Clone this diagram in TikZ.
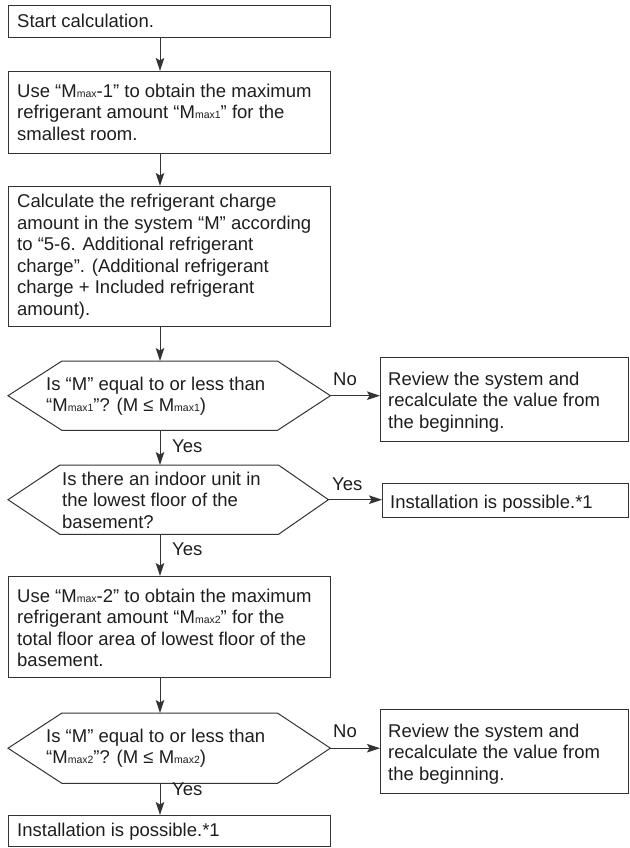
\documentclass[tikz,border=0pt]{standalone}
\usepackage{fontspec}
\setmainfont{Liberation Sans}
\usetikzlibrary{arrows.meta}
\newcommand\sbs[1]{{\fontsize{10.5}{10.5}\selectfont #1}}
\definecolor{ln}{HTML}{333333}
\definecolor{tx}{HTML}{1E1E1E}
\begin{document}
\begin{tikzpicture}[x=1pt,y=-1pt,
  boxs/.style={draw=ln,line width=1.1pt,inner sep=0pt,anchor=north west,fill=none},
  txt/.style={text=tx,inner sep=0pt,anchor=north west,align=left,font=\fontsize{18.5}{21.5}\selectfont},
  lbl/.style={text=tx,inner sep=0pt,anchor=base west,font=\fontsize{18.5}{21.5}\selectfont},
  hexs/.style={draw=none,inner sep=0pt,anchor=north west},
  arr/.style={draw=ln,line width=1pt,-{Stealth[length=13pt,width=8.5pt,inset=2.5pt]}},
  hexl/.style={draw=ln,line width=1pt,line join=miter}]
\useasboundingbox (0,0) rectangle (629,848);
\coordinate (col) at (160,0);
% boxes
\node[boxs,minimum width=322pt,minimum height=32pt] (b1) at (8,5) {};
\node[lbl] (t1) at (17,28) {Start calculation.};
\node[boxs,minimum width=322pt,minimum height=82pt] (b2) at (8,71) {};
\node[txt] (t2) at (17,83.6) {Use “M\sbs{max}-1” to obtain the maximum\\refrigerant amount “M\sbs{max1}” for the\\smallest room.};
\node[boxs,minimum width=322pt,minimum height=140pt] (b3) at (8,186) {};
\node[txt] (t3) at (17,194) {Calculate the refrigerant charge\\amount in the system “M” according\\to “5-6. Additional refrigerant\\charge”. (Additional refrigerant\\charge + Included refrigerant\\amount).};
% hex 1
\node[hexs,minimum width=322pt,minimum height=69pt] (h1) at (8,361) {};
\draw[hexl] (h1.west) -- ([xshift=54pt]h1.north west) -- ([xshift=-53pt]h1.north east) -- (h1.east) -- ([xshift=-53pt]h1.south east) -- ([xshift=54pt]h1.south west) -- cycle;
\node[txt] (t4) at (46,376.6) {Is “M” equal to or less than\\“M\sbs{max1}”? (M ≤ M\sbs{max1})};
\node[lbl] (no1) at (333,385) {No};
\node[boxs,minimum width=248pt,minimum height=84pt] (r1) at (380,357) {};
\node[txt] (t5) at (388,371.6) {Review the system and\\recalculate the value from\\the beginning.};
\node[lbl] (y1) at (172,452) {Yes};
% hex 2
\node[hexs,minimum width=320pt,minimum height=69pt] (h2) at (8,465) {};
\draw[hexl] (h2.west) -- ([xshift=52pt]h2.north west) -- ([xshift=-50pt]h2.north east) -- (h2.east) -- ([xshift=-50pt]h2.south east) -- ([xshift=52pt]h2.south west) -- cycle;
\node[txt] (t6) at (62,471.6) {Is there an indoor unit in\\the lowest floor of the\\basement?};
\node[lbl] (y2) at (332,490) {Yes};
\node[boxs,minimum width=246pt,minimum height=34pt] (i1) at (382,483) {};
\node[lbl] (t7) at (390,508) {Installation is possible.*1};
\node[lbl] (y3) at (172,555) {Yes};
% box 4
\node[boxs,minimum width=322pt,minimum height=101pt] (b4) at (8,576) {};
\node[txt] (t8) at (17,588.6) {Use “M\sbs{max}-2” to obtain the maximum\\refrigerant amount “M\sbs{max2}” for the\\total floor area of lowest floor of the\\basement.};
% hex 3
\node[hexs,minimum width=322pt,minimum height=70pt] (h3) at (8,713) {};
\draw[hexl] (h3.west) -- ([xshift=54pt]h3.north west) -- ([xshift=-53pt]h3.north east) -- (h3.east) -- ([xshift=-53pt]h3.south east) -- ([xshift=54pt]h3.south west) -- cycle;
\node[txt] (t9) at (46,728.6) {Is “M” equal to or less than\\“M\sbs{max2}”? (M ≤ M\sbs{max2})};
\node[lbl] (no2) at (333,737) {No};
\node[boxs,minimum width=248pt,minimum height=84pt] (r2) at (380,709) {};
\node[txt] (t10) at (388,723.6) {Review the system and\\recalculate the value from\\the beginning.};
\node[lbl] (y4) at (172,795) {Yes};
\node[boxs,minimum width=322pt,minimum height=31pt] (i2) at (8,815) {};
\node[lbl] (t11) at (17,836) {Installation is possible.*1};
% connectors
\draw[arr] (b1.south -| col) -- (b2.north -| col);
\draw[arr] (b2.south -| col) -- (b3.north -| col);
\draw[arr] (b3.south -| col) -- (h1.north -| col);
\draw[arr] (h1.south -| col) -- (h2.north -| col);
\draw[arr] (h2.south -| col) -- (b4.north -| col);
\draw[arr] (b4.south -| col) -- (h3.north -| col);
\draw[arr] (h3.south -| col) -- (i2.north -| col);
\draw[arr] (h1.east) -- (h1.east -| r1.west);
\draw[arr] (h2.east) -- (h2.east -| i1.west);
\draw[arr] (h3.east) -- (h3.east -| r2.west);
\end{tikzpicture}
\end{document}
